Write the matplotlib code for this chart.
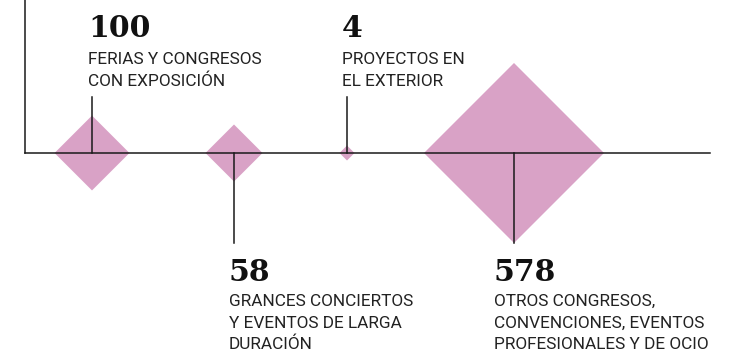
import matplotlib
matplotlib.use("Agg")
import matplotlib.pyplot as plt
from matplotlib.patches import Polygon
import numpy as np

# ── Data ──────────────────────────────────────────────────────────────────────
values = [100, 58, 4, 578]
value_labels = ["100", "58", "4", "578"]
descriptions = [
    ["FERIAS Y CONGRESOS", "CON EXPOSICIÓN"],
    ["GRANCES CONCIERTOS", "Y EVENTOS DE LARGA", "DURACIÓN"],
    ["PROYECTOS EN", "EL EXTERIOR"],
    ["OTROS CONGRESOS,", "CONVENCIONES, EVENTOS", "PROFESIONALES Y DE OCIO"],
]

# ── Layout (pixel canvas) ─────────────────────────────────────────────────────
W, H = 729, 351
AXIS_Y = 153
CENTRE_X = [92, 234, 347, 514]
SIDE = ["up", "down", "up", "down"]
TEXT_X = [88, 229, 342, 494]
MAX_HALF = 90          # half-diagonal of the largest diamond

PINK = "#d9a2c6"
INK = "#1a1a1a"
LABEL = "#222222"

fig = plt.figure(figsize=(W / 100, H / 100), dpi=100)
ax = fig.add_axes([0, 0, 1, 1])
ax.set_xlim(0, W)
ax.set_ylim(H, 0)
ax.axis("off")

# diamonds: area proportional to value
k = MAX_HALF / np.sqrt(max(values))
for v, cx in zip(values, CENTRE_X):
    h = k * np.sqrt(v)
    ax.add_patch(Polygon([(cx - h, AXIS_Y), (cx, AXIS_Y - h), (cx + h, AXIS_Y), (cx, AXIS_Y + h)],
                         closed=True, facecolor=PINK, edgecolor="none", zorder=1))

# axes lines
ax.plot([25, 25], [0, AXIS_Y], color=INK, lw=1.1, zorder=3)
ax.plot([25, 710], [AXIS_Y, AXIS_Y], color=INK, lw=1.1, zorder=3)

for v, lab, desc, cx, side, tx in zip(values, value_labels, descriptions, CENTRE_X, SIDE, TEXT_X):
    h = k * np.sqrt(v)
    if side == "up":
        ax.plot([cx, cx], [97, AXIS_Y], color=INK, lw=1.1, zorder=3)
        num_base, first_gap, line_gap = 37, 27, 22.5
    else:
        ax.plot([cx, cx], [AXIS_Y, AXIS_Y + max(h, 90)], color=INK, lw=1.1, zorder=3)
        num_base, first_gap, line_gap = 281, 25, 21.5
    ax.text(tx, num_base, lab, fontsize=21.5, fontweight="bold", family="DejaVu Serif",
            color="#111111", va="baseline", ha="left")
    for i, line in enumerate(desc):
        ax.text(tx, num_base + first_gap + i * line_gap, line, fontsize=12.4, family="Roboto",
                color=LABEL, va="baseline", ha="left")

fig.savefig("out.png", dpi=100, facecolor="white")
